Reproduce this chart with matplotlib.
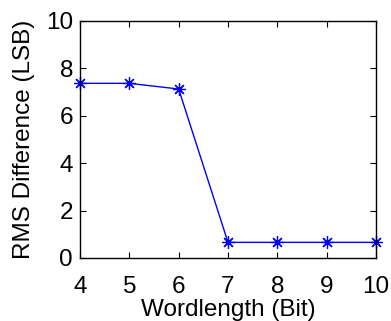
import matplotlib
matplotlib.use("Agg")
import matplotlib.pyplot as plt

wordlength = [4, 5, 6, 7, 8, 9, 10]
rms_diff = [7.37, 7.37, 7.13, 0.66, 0.66, 0.66, 0.66]
xticks = [4, 5, 6, 7, 8, 9, 10]
yticks = [0, 2, 4, 6, 8, 10]

plt.rcParams['font.family'] = ['Liberation Sans', 'DejaVu Sans']
fig = plt.figure(figsize=(3.91, 3.21), dpi=100)
ax = fig.add_axes([80/391, 1-258/321, (376-80)/391, (258-21)/321])
ax.plot(wordlength, rms_diff, color='#0000ff', lw=1, marker=(8, 2, 0), ms=9, mew=0.9, clip_on=False)
ax.set_xlim(4, 10)
ax.set_ylim(0, 10)
ax.set_xticks(xticks)
ax.set_yticks(yticks)
ax.tick_params(direction='in', top=True, right=True, labelsize=17.5, length=4, width=0.8)
ax.tick_params(axis='x', pad=13)
ax.tick_params(axis='y', pad=5)
for s in ax.spines.values():
    s.set_linewidth(1)
ax.set_xlabel('Wordlength (Bit)', fontsize=17.5, labelpad=1)
ax.set_ylabel('RMS Difference (LSB)', fontsize=17.5, labelpad=8)
fig.savefig('out.png', dpi=100)
